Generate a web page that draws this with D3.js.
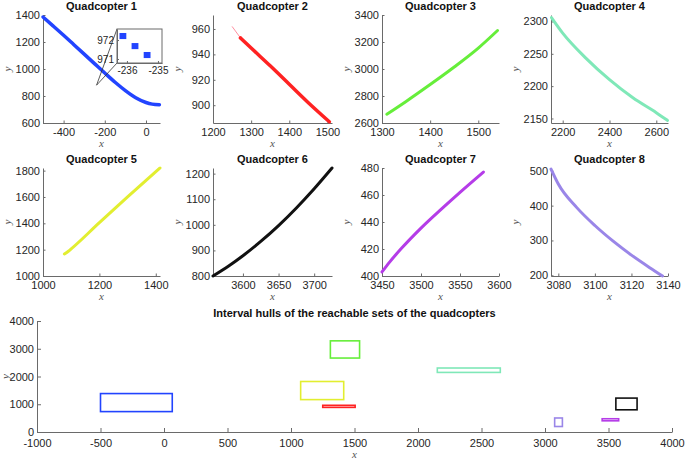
<!DOCTYPE html>
<html>
<head>
<meta charset="utf-8">
<script src="https://cdn.jsdelivr.net/npm/d3@7"></script>
<style>
  body { margin: 0; background: #fff; }
  text { font-family: "Liberation Sans", Arial, sans-serif; }
</style>
</head>
<body>
<svg id="chart" width="685" height="459"></svg>
<script>
// trajectories, one pair of arrays per quadcopter
const names = ['Quadcopter 1', 'Quadcopter 2', 'Quadcopter 3', 'Quadcopter 4',
               'Quadcopter 5', 'Quadcopter 6', 'Quadcopter 7', 'Quadcopter 8'];

const q1x = [-500, -450, -400, -350, -300, -250, -200, -150, -100, -50, 0, 30, 65];
const q1y = [1385, 1318, 1250, 1180, 1110, 1040, 970, 902, 840, 787, 752, 740, 735];
const q2x = [1272, 1300, 1350, 1400, 1450, 1505];
const q2y = [953, 945, 931, 916.5, 902, 887];
const q2tailX = [1250, 1272];
const q2tailY = [962, 953];
const q3x = [1310, 1350, 1400, 1450, 1500, 1540];
const q3y = [2665, 2760, 2885, 3015, 3155, 3285];
const q4x = [2152, 2200, 2300, 2400, 2500, 2600, 2648];
const q4y = [2306, 2282, 2243, 2210, 2182, 2159, 2147];
const q5x = [1076, 1090, 1100, 1200, 1300, 1415];
const q5y = [1167, 1188, 1206, 1405, 1600, 1820];
const q6x = [3558, 3580, 3600, 3625, 3650, 3675, 3700, 3725];
const q6y = [800, 839, 879, 935, 997, 1066, 1141, 1222];
const q7x = [3450, 3460, 3475, 3500, 3525, 3550, 3580];
const q7y = [403, 410.5, 420.5, 435.5, 449, 462, 477];
const q8x = [3076, 3080, 3090, 3100, 3110, 3120, 3130, 3137];
const q8y = [505, 462, 395, 343, 298, 258, 222, 198];

// zoomed boxes of quadcopter 1 shown in the inset
const insetX = [-236.13, -235.74, -235.35];
const insetY = [972.21, 971.68, 971.21];

// axis limits and tick labels
const xLimits = [[-500, 68], [1200, 1512], [1300, 1543], [2150, 2650],
                 [1000, 1415], [3558, 3725], [3450, 3600], [3076, 3140]];
const yLimits = [[600, 1400], [886, 971], [2600, 3400], [2143, 2310],
                 [1000, 1820], [800, 1222], [400, 480], [198, 508]];
const xTicks = [[-400, -200, 0], [1200, 1300, 1400, 1500], [1300, 1400, 1500], [2200, 2400, 2600],
                [1000, 1200, 1400], [3600, 3650, 3700], [3450, 3500, 3550, 3600], [3080, 3100, 3120, 3140]];
const yTicks = [[600, 800, 1000, 1200, 1400], [900, 920, 940, 960], [2600, 2800, 3000, 3200, 3400],
                [2150, 2200, 2250, 2300], [1000, 1200, 1400, 1600, 1800], [800, 900, 1000, 1100, 1200],
                [400, 420, 440, 460, 480], [200, 300, 400, 500]];
const insetXTicks = [-236, -235];
const insetYTicks = [971, 972];
const hullXTicks = [-1000, -500, 0, 500, 1000, 1500, 2000, 2500, 3000, 3500, 4000];
const hullYTicks = [0, 1000, 2000, 3000, 4000];
const hullTitle = 'Interval hulls of the reachable sets of the quadcopters';

const seriesX = [q1x, q2x, q3x, q4x, q5x, q6x, q7x, q8x];
const seriesY = [q1y, q2y, q3y, q4y, q5y, q6y, q7y, q8y];

const colors = ['#2244ff', '#ff2222', '#66ee3a', '#7fe8b8', '#e2ee30', '#111111', '#b53ce8', '#9a86e8'];
const axisColor = '#6a6a6a';
const textColor = '#262626';

const svg = d3.select('#chart');
const colsX = [[43, 160], [213, 332], [382, 499], [551, 668]];
const rowsY = [[15, 123], [168, 276]];

const fmt = d => String(d);

function drawAxes(g, x, y, xt, yt, tick, fontSize, pad) {
    const ax = g.append('g')
        .attr('transform', `translate(0,${y.range()[0]})`)
        .call(d3.axisBottom(x).tickValues(xt).tickFormat(fmt)
            .tickSizeInner(-tick).tickSizeOuter(0).tickPadding(pad || 4));
    const ay = g.append('g')
        .attr('transform', `translate(${x.range()[0]},0)`)
        .call(d3.axisLeft(y).tickValues(yt).tickFormat(fmt)
            .tickSizeInner(-tick).tickSizeOuter(0).tickPadding(3));
    [ax, ay].forEach(a => {
        a.attr('font-family', null).attr('font-size', null);
        a.select('.domain').attr('stroke', axisColor);
        a.selectAll('.tick line').attr('stroke', axisColor);
        a.selectAll('text').attr('fill', textColor).style('font-size', fontSize + 'px');
    });
}

function axisLabels(g, x, y, xOff, yOff) {
    const [x0, x1] = x.range();
    const [y1, y0] = y.range();
    g.append('text')
        .attr('x', (x0 + x1) / 2).attr('y', y1 + xOff)
        .attr('text-anchor', 'middle')
        .style('font-family', '"Liberation Serif", serif').style('font-style', 'italic')
        .style('font-size', '11px').attr('fill', '#555')
        .text('x');
    g.append('text')
        .attr('transform', `translate(${x0 - yOff},${(y0 + y1) / 2}) rotate(-90)`)
        .attr('text-anchor', 'middle')
        .style('font-family', '"Liberation Serif", serif').style('font-style', 'italic')
        .style('font-size', '11px').attr('fill', '#555')
        .text('y');
}

const line = d3.line().curve(d3.curveMonotoneX);

// eight small panels
names.forEach((name, i) => {
    const [x0, x1] = colsX[i % 4];
    const [y0, y1] = rowsY[Math.floor(i / 4)];
    const x = d3.scaleLinear().domain(xLimits[i]).range([x0, x1]);
    const y = d3.scaleLinear().domain(yLimits[i]).range([y1, y0]);
    const g = svg.append('g').attr('class', 'panel');

    drawAxes(g, x, y, xTicks[i], yTicks[i], 2.5, 11, 5.5);
    axisLabels(g, x, y, 24, 32);

    g.append('text')
        .attr('x', (x0 + x1) / 2).attr('y', y0 - 5)
        .attr('text-anchor', 'middle')
        .style('font-weight', 'bold').style('font-size', '11px')
        .attr('fill', '#111')
        .text(name);

    if (i === 1) {
        g.append('path')
            .attr('d', line(q2tailX.map((v, k) => [x(v), y(q2tailY[k])])))
            .attr('fill', 'none').attr('stroke', '#ff8fa0').attr('stroke-width', 1);
    }

    g.append('path')
        .attr('d', line(seriesX[i].map((v, k) => [x(v), y(seriesY[i][k])])))
        .attr('fill', 'none')
        .attr('stroke', colors[i])
        .attr('stroke-width', i < 2 ? 3.5 : 3)
        .attr('stroke-linecap', 'round');

    if (i === 0) {
        // inset with the zoomed reachable boxes
        const ix = d3.scaleLinear().domain([-236.32, -234.87]).range([117, 162]);
        const iy = d3.scaleLinear().domain([970.79, 972.58]).range([63, 29]);
        const target = [x(-240), y(880)];
        g.selectAll('.zoomline')
            .data([iy.range()[1], iy.range()[0]])
            .enter().append('line')
            .attr('x1', target[0]).attr('y1', target[1])
            .attr('x2', ix.range()[0]).attr('y2', d => d)
            .attr('stroke', '#333').attr('stroke-width', 0.8);
        const ig = g.append('g');
        ig.append('rect')
            .attr('x', 117).attr('y', 29).attr('width', 45).attr('height', 34)
            .attr('fill', '#fff');
        drawAxes(ig, ix, iy, insetXTicks, insetYTicks, 2, 10);
        ig.append('rect')
            .attr('x', 117).attr('y', 29).attr('width', 45).attr('height', 34)
            .attr('fill', 'none').attr('stroke', axisColor);
        const hw = 0.11, hh = 0.16;
        ig.selectAll('.sq')
            .data(insetX.map((v, k) => [v, insetY[k]]))
            .enter().append('rect')
            .attr('x', d => ix(d[0] - hw))
            .attr('y', d => iy(d[1] + hh))
            .attr('width', d => ix(d[0] + hw) - ix(d[0] - hw))
            .attr('height', d => iy(d[1] - hh) - iy(d[1] + hh))
            .attr('fill', colors[0]);
    }
});

// interval hulls panel
const hx = d3.scaleLinear().domain([-1000, 4000]).range([37, 672]);
const hy = d3.scaleLinear().domain([0, 4000]).range([432, 321]);
const hg = svg.append('g').attr('class', 'hulls');
drawAxes(hg, hx, hy, hullXTicks, hullYTicks, 4, 11, 7);
axisLabels(hg, hx, hy, 25.5, 28);
hg.append('text')
    .attr('x', (37 + 672) / 2).attr('y', 317)
    .attr('text-anchor', 'middle')
    .style('font-weight', 'bold').style('font-size', '11px')
    .attr('fill', '#111')
    .text(hullTitle);

const hulls = seriesX.map((xs, i) => {
    const allX = i === 1 ? xs.concat(q2tailX) : xs;
    const allY = i === 1 ? seriesY[i].concat(q2tailY) : seriesY[i];
    return { ex: d3.extent(allX), ey: d3.extent(allY), color: colors[i] };
});
hg.selectAll('.hull')
    .data(hulls)
    .enter().append('rect')
    .attr('class', 'hull')
    .attr('x', d => hx(d.ex[0]))
    .attr('y', d => hy(d.ey[1]))
    .attr('width', d => hx(d.ex[1]) - hx(d.ex[0]))
    .attr('height', d => hy(d.ey[0]) - hy(d.ey[1]))
    .attr('fill', 'none')
    .attr('stroke', d => d.color)
    .attr('stroke-width', 1.6);
</script>
</body>
</html>
